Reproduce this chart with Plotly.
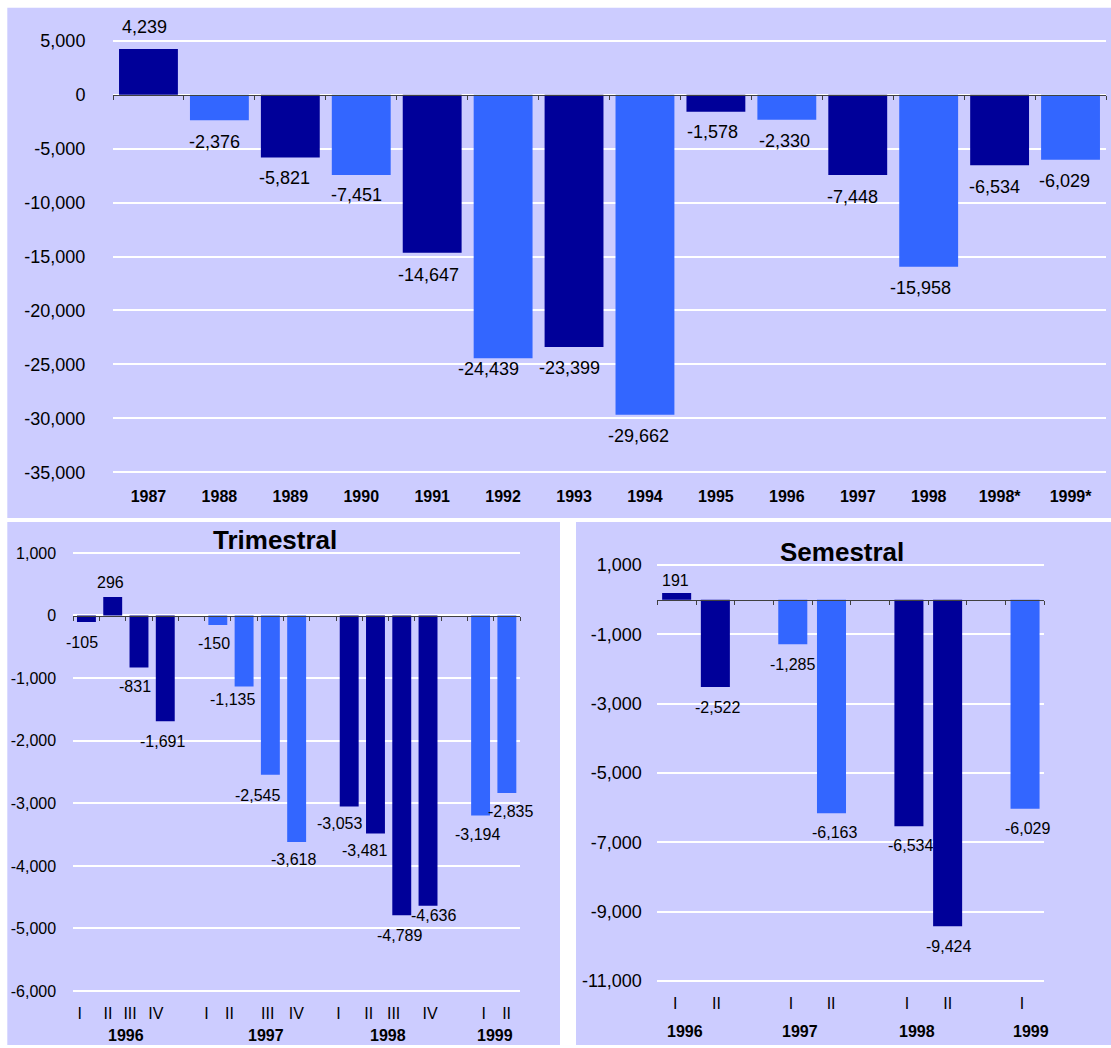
import plotly.graph_objects as go

W, H = 1111, 1048
DARK = "#000099"
LIGHT = "#3366FF"
PANEL = "#CCCCFF"
AXIS = "#404040"
FONT = "Arial, 'Liberation Sans', sans-serif"

# ---------------- data ----------------
annual_years = ["1987", "1988", "1989", "1990", "1991", "1992", "1993",
                "1994", "1995", "1996", "1997", "1998", "1998*", "1999*"]
annual_balance = [4239, -2376, -5821, -7451, -14647, -24439, -23399,
                  -29662, -1578, -2330, -7448, -15958, -6534, -6029]

quarter_years = ["1996"] * 4 + ["1997"] * 4 + ["1998"] * 4 + ["1999"] * 2
quarter_names = ["I", "II", "III", "IV"] * 3 + ["I", "II"]
quarter_balance = [-105, 296, -831, -1691,
                   -150, -1135, -2545, -3618,
                   -3053, -3481, -4789, -4636,
                   -3194, -2835]

half_years = ["1996", "1996", "1997", "1997", "1998", "1998", "1999"]
half_names = ["I", "II", "I", "II", "I", "II", "I"]
half_balance = [191, -2522, -1285, -6163, -6534, -9424, -6029]

year_colors = {"1996": DARK, "1997": LIGHT, "1998": DARK, "1999": LIGHT}

# value-label placement: pixels to the right of / below the bar end
annual_label_dx = [-4, -5, -6, -5, -4, -15, -5, -6, -3, -2, -5, -8, -5, -6]
annual_label_dy = [-22, 22, 21, 20, 22, 11, 21, 21, 20, 21, 22, 21, 22, 21]
quarter_label_dx = [-4, -2, -4, -3, -4, -12, -13, -3, -10, -11, -2, 5, -3, 4]
quarter_label_dy = [20, -14, 19, 20, 19, 13, 21, 18, 17, 17, 20, 10, 19, 19]
half_label_dx = [-1, 2, 0, 3, 2, 1, 2]
half_label_dy = [-13, 20, 20, 19, 19, 20, 20]

# caption positions under the lower panels (in slot units)
quarter_tick_pos = [-0.26, 0.82, 1.66, 2.64, 4.57, 5.44, 6.90, 7.99,
                    9.59, 10.74, 11.69, 13.08, 15.12, 15.99]
quarter_year_labels = ["1996", "1997", "1998", "1999"]
quarter_year_pos = [1.50, 6.83, 11.47, 15.56]
half_tick_pos = [-0.04, 1.03, 2.95, 3.99, 5.95, 7.0, 8.92]
half_year_labels = ["1996", "1997", "1998", "1999"]
half_year_pos = [0.22, 3.19, 6.21, 9.16]

annual_ticks = list(range(-35000, 5001, 5000))
quarter_ticks = list(range(-6000, 1001, 1000))
half_ticks = list(range(-11000, 1001, 2000))


# ---------------- helpers ----------------
def fx(px):
    return px / W


def fy(py):
    return 1 - py / H


def value_frame(lo, hi, px_lo, px_hi, pad=0.004):
    """Vertical domain and range such that lo/hi land on the given pixel rows,
    padded slightly so the outermost gridlines are still drawn."""
    span = hi - lo
    r0, r1 = lo - pad * span, hi + pad * span
    k = (px_lo - px_hi) / span
    return [fy(px_lo + pad * span * k), fy(px_hi - pad * span * k)], [r0, r1]


def slot_order(years, names):
    """Category order with one empty slot between consecutive years."""
    order, prev = [], None
    for y, n in zip(years, names):
        if prev is not None and y != prev:
            order.append(" " * len(order))
        order.append(f"{y} {n}")
        prev = y
    return order


quarter_slots = slot_order(quarter_years, quarter_names)
half_slots = slot_order(half_years, half_names)
quarter_x = [f"{y} {n}" for y, n in zip(quarter_years, quarter_names)]
half_x = [f"{y} {n}" for y, n in zip(half_years, half_names)]

top_dom_x = [fx(113), fx(1106)]
tri_dom_x = [fx(73.3), fx(520)]
sem_dom_x = [fx(657.3), fx(1044.4)]
top_dom_y, top_range = value_frame(annual_ticks[0], annual_ticks[-1], 472.3, 40.7)
tri_dom_y, tri_range = value_frame(quarter_ticks[0], quarter_ticks[-1], 991.1, 552.9)
sem_dom_y, sem_range = value_frame(half_ticks[0], half_ticks[-1], 981, 565)

fig = go.Figure()

fig.add_bar(x=annual_years, y=annual_balance, width=0.83,
            marker=dict(color=[DARK if i % 2 == 0 else LIGHT for i in range(len(annual_years))], line_width=0),
            xaxis="x", yaxis="y", hoverinfo="skip")
fig.add_bar(x=quarter_x, y=quarter_balance, width=0.72,
            marker=dict(color=[year_colors[y] for y in quarter_years], line_width=0),
            xaxis="x2", yaxis="y2", hoverinfo="skip")
fig.add_bar(x=half_x, y=half_balance, width=0.75,
            marker=dict(color=[year_colors[y] for y in half_years], line_width=0),
            xaxis="x3", yaxis="y3", hoverinfo="skip")

# empty traces that carry the zero-line axes
for ax, ay in (("x4", "y"), ("x5", "y2"), ("x6", "y3")):
    fig.add_scatter(x=[], y=[], xaxis=ax, yaxis=ay, showlegend=False, hoverinfo="skip")


def value_axis(dom, anchor, rng, vals, size, standoff):
    return dict(domain=dom, anchor=anchor, range=rng, tickmode="array", tickvals=vals,
                ticktext=[f"{v:,}" for v in vals], showgrid=True, gridcolor="white",
                gridwidth=1.5, zeroline=False, showline=False, ticks="outside",
                ticklen=standoff, tickcolor="rgba(0,0,0,0)", automargin=False,
                tickfont=dict(size=size, color="black", family=FONT), fixedrange=True)


def category_axis(dom, anchor, order, standoff, tickvals=None, ticktext=None, bold=True):
    d = dict(domain=dom, anchor=anchor, type="category", categoryorder="array",
             categoryarray=order, range=[-0.5, len(order) - 0.5], showgrid=False,
             zeroline=False, showline=False, ticks="outside", ticklen=standoff,
             tickcolor="rgba(0,0,0,0)", fixedrange=True, automargin=False,
             tickfont=dict(size=16, color="black", family=FONT, weight="bold" if bold else "normal"))
    if tickvals is not None:
        d.update(tickmode="array", tickvals=tickvals, ticktext=ticktext)
    return d


def zero_axis(over, n, dom_y, rng):
    pos = dom_y[0] + (0 - rng[0]) / (rng[1] - rng[0]) * (dom_y[1] - dom_y[0])
    return dict(overlaying=over, anchor="free", position=pos, type="linear",
                range=[-0.5, n - 0.5], tickmode="array",
                tickvals=[i - 0.5 for i in range(n + 1)], ticks="outside", ticklen=4,
                tickwidth=1, tickcolor=AXIS, showline=True, linecolor=AXIS, linewidth=1,
                showticklabels=False, showgrid=False, zeroline=False, fixedrange=True,
                automargin=False)


fig.update_layout(
    width=W, height=H, margin=dict(l=0, r=0, t=0, b=0, autoexpand=False),
    paper_bgcolor="white", plot_bgcolor="rgba(0,0,0,0)", showlegend=False,
    font=dict(family=FONT, color="black"),
    xaxis=category_axis(top_dom_x, "y", annual_years, 8),
    yaxis=value_axis(top_dom_y, "x", top_range, annual_ticks, 18, 23),
    xaxis2=category_axis(tri_dom_x, "y2", quarter_slots, 6, quarter_tick_pos, quarter_names, bold=False),
    yaxis2=value_axis(tri_dom_y, "x2", tri_range, quarter_ticks, 16, 13),
    xaxis3=category_axis(sem_dom_x, "y3", half_slots, 6, half_tick_pos, half_names, bold=False),
    yaxis3=value_axis(sem_dom_y, "x3", sem_range, half_ticks, 18, 11),
    xaxis4=zero_axis("x", len(annual_years), top_dom_y, top_range),
    xaxis5=zero_axis("x2", len(quarter_slots), tri_dom_y, tri_range),
    xaxis6=zero_axis("x3", len(half_slots), sem_dom_y, sem_range),
)

# lavender panels behind each chart
for x0, y0, x1, y1 in ((7.3, 7.7, 1111, 518), (7.3, 522, 560, 1045), (576, 522, 1111, 1045)):
    fig.add_shape(type="rect", xref="paper", yref="paper", x0=fx(x0), x1=fx(x1),
                  y0=fy(y1), y1=fy(y0), fillcolor=PANEL, line_width=0, layer="below")


def bar_labels(slots, xs, vals, dxs, dys, xref, yref, size):
    for x, v, dx, dy in zip(xs, vals, dxs, dys):
        fig.add_annotation(x=slots.index(x), y=v, xref=xref, yref=yref, text=f"{v:,}",
                           showarrow=False, xshift=dx, yshift=-dy, xanchor="center",
                           yanchor="middle", font=dict(size=size, color="black", family=FONT))


bar_labels(annual_years, annual_years, annual_balance, annual_label_dx, annual_label_dy, "x", "y", 18)
bar_labels(quarter_slots, quarter_x, quarter_balance, quarter_label_dx, quarter_label_dy, "x2", "y2", 16)
bar_labels(half_slots, half_x, half_balance, half_label_dx, half_label_dy, "x3", "y3", 16)

for label, pos in zip(quarter_year_labels, quarter_year_pos):
    fig.add_annotation(x=pos, y=fy(1035), xref="x2", yref="paper", text=label, showarrow=False,
                       xanchor="center", yanchor="middle",
                       font=dict(size=16, color="black", family=FONT, weight="bold"))
for label, pos in zip(half_year_labels, half_year_pos):
    fig.add_annotation(x=pos, y=fy(1031.7), xref="x3", yref="paper", text=label, showarrow=False,
                       xanchor="center", yanchor="middle",
                       font=dict(size=16, color="black", family=FONT, weight="bold"))

fig.add_annotation(x=fx(275), y=fy(540), xref="paper", yref="paper", text="Trimestral",
                   showarrow=False, xanchor="center", yanchor="middle",
                   font=dict(size=26, color="black", family=FONT, weight="bold"))
fig.add_annotation(x=fx(841.7), y=fy(551.7), xref="paper", yref="paper", text="Semestral",
                   showarrow=False, xanchor="center", yanchor="middle",
                   font=dict(size=26, color="black", family=FONT, weight="bold"))

fig.write_html("out.html")
